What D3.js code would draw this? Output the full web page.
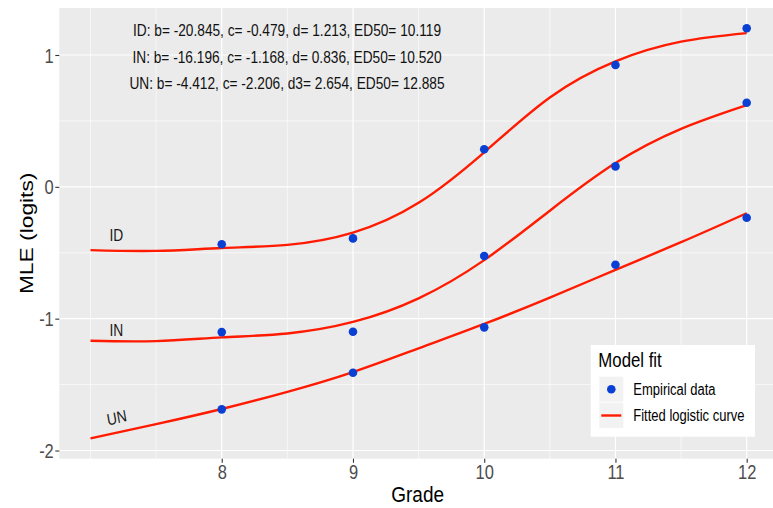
<!DOCTYPE html>
<html><head><meta charset="utf-8">
<script src="https://cdn.jsdelivr.net/npm/d3@7"></script>
<style>
body{margin:0;background:#fff}
svg{display:block}
text{font-family:"Liberation Sans",Arial,Helvetica,sans-serif}
</style>
</head><body>
<svg id="chart" width="773" height="508"></svg>
<script>
// ---------- data ----------
const grades = [8, 9, 10, 11, 12];
const idObs = [-0.436, -0.391, 0.285, 0.924, 1.203];
const inObs = [-1.102, -1.099, -0.525, 0.155, 0.638];
const unObs = [-1.688, -1.410, -1.066, -0.591, -0.234];

const fitGrades = [7, 7.5, 8, 8.5, 9, 9.5, 10, 10.5, 11, 11.5, 12];
const idFit = [-0.480, -0.486, -0.464, -0.440, -0.347, -0.121, 0.262, 0.678, 0.952, 1.101, 1.166];
const inFit = [-1.168, -1.170, -1.142, -1.112, -1.025, -0.846, -0.556, -0.181, 0.180, 0.440, 0.620];
const unFit = [-1.908, -1.800, -1.685, -1.555, -1.405, -1.225, -1.040, -0.840, -0.630, -0.420, -0.200];

const xTicks = [8, 9, 10, 11, 12];
const yTicks = [-2, -1, 0, 1];
const xMinor = [7, 7.5, 8.5, 9.5, 10.5, 11.5];
const yMinor = [-1.5, -0.5, 0.5];

const annotations = [
  "ID: b= -20.845, c= -0.479, d= 1.213, ED50= 10.119",
  "IN: b= -16.196, c= -1.168, d= 0.836, ED50= 10.520",
  "UN: b= -4.412, c= -2.206, d3= 2.654, ED50= 12.885"
];
const curveNames = ["ID", "IN", "UN"];
const legendTitle = "Model fit";
const legendItems = ["Empirical data", "Fitted logistic curve"];
const xTitle = "Grade";
const yTitle = "MLE (logits)";

// ---------- layout ----------
const W = 773, H = 508, K = 1.2;   // K: vertical stretch of glyphs
const panel = {x0: 59.3, x1: 780, y0: 8, y1: 458.7};
const x = d3.scaleLinear().domain([7, 12]).range([90.5, 746.7]);
const y = d3.scaleLinear().domain([-2, 1]).range([450.5, 55]);

const RED = "#ff1a00", BLUE = "#0a3fd4";
const svg = d3.select("#chart");

svg.append("rect").attr("width", W).attr("height", H).attr("fill", "#fff");
svg.append("rect").attr("x", panel.x0).attr("y", panel.y0)
  .attr("width", panel.x1 - panel.x0).attr("height", panel.y1 - panel.y0)
  .attr("fill", "#ebebeb");

const grid = svg.append("g");
grid.selectAll(".vmin").data(xMinor).join("line")
  .attr("x1", d => x(d)).attr("x2", d => x(d)).attr("y1", panel.y0).attr("y2", panel.y1)
  .attr("stroke", "#fff").attr("stroke-width", 0.6);
grid.selectAll(".hmin").data(yMinor).join("line")
  .attr("y1", d => y(d)).attr("y2", d => y(d)).attr("x1", panel.x0).attr("x2", panel.x1)
  .attr("stroke", "#fff").attr("stroke-width", 0.6);
grid.selectAll(".vmaj").data(xTicks).join("line")
  .attr("x1", d => x(d)).attr("x2", d => x(d)).attr("y1", panel.y0).attr("y2", panel.y1)
  .attr("stroke", "#fff").attr("stroke-width", 1.2);
grid.selectAll(".hmaj").data(yTicks).join("line")
  .attr("y1", d => y(d)).attr("y2", d => y(d)).attr("x1", panel.x0).attr("x2", panel.x1)
  .attr("stroke", "#fff").attr("stroke-width", 1.2);

// fitted curves
const line = d3.line().x((d, i) => x(fitGrades[i])).y(d => y(d)).curve(d3.curveNatural);
[idFit, inFit, unFit].forEach(s => {
  svg.append("path").attr("d", line(s)).attr("fill", "none")
    .attr("stroke", RED).attr("stroke-width", 2.4);
});

// empirical points
[idObs, inObs, unObs].forEach(s => {
  svg.append("g").selectAll("circle").data(s).join("circle")
    .attr("cx", (d, i) => x(grades[i])).attr("cy", d => y(d))
    .attr("r", 4.3).attr("fill", BLUE);
});

// helper for stretched text
function stext(g, tx, ty, str, size, anchor, extra) {
  return g.append("text")
    .attr("transform", `translate(${tx},${ty}) scale(1,${K})` + (extra || ""))
    .attr("font-size", size).attr("text-anchor", anchor || "start").text(str);
}

// annotations
annotations.forEach((a, i) => {
  stext(svg, 287, 36 + i * 26.6, a, 13.7, "middle").attr("fill", "#111");
});

// curve labels
stext(svg, 116.3, 240.7, curveNames[0], 13.8, "middle").attr("fill", "#1a1a1a");
stext(svg, 116.3, 335.7, curveNames[1], 13.8, "middle").attr("fill", "#1a1a1a");
stext(svg, 116.7, 417.5, curveNames[2], 13.8, "middle", " rotate(-12)")
  .attr("dy", "0.36em").attr("fill", "#1a1a1a");

// axes
const fmt = d => String(d);
const xAxis = svg.append("g").attr("transform", `translate(0,${panel.y1})`)
  .call(d3.axisBottom(x).tickValues(xTicks).tickSize(4).tickFormat(fmt));
xAxis.select(".domain").remove();
xAxis.selectAll(".tick line").attr("stroke", "#333").attr("stroke-width", 1.1);
xAxis.selectAll(".tick text").attr("y", 0).attr("dy", null)
  .attr("transform", `translate(0,20.5) scale(1,${K})`)
  .attr("font-size", 16.5).attr("fill", "#4d4d4d")
  .attr("font-family", "'Liberation Sans',Arial,sans-serif");

const yAxis = svg.append("g").attr("transform", `translate(${panel.x0},0)`)
  .call(d3.axisLeft(y).tickValues(yTicks).tickSize(4).tickFormat(fmt));
yAxis.select(".domain").remove();
yAxis.selectAll(".tick line").attr("stroke", "#333").attr("stroke-width", 1.1);
yAxis.selectAll(".tick text").attr("x", 0).attr("dy", null)
  .attr("transform", `translate(-5.5,7.1) scale(1,${K})`)
  .attr("font-size", 16.5).attr("fill", "#4d4d4d")
  .attr("font-family", "'Liberation Sans',Arial,sans-serif");

// axis titles
stext(svg, (panel.x0 + 776) / 2, 502, xTitle, 19, "middle").attr("fill", "#000");
stext(svg, 33, (panel.y0 + panel.y1) / 2, yTitle, 19, "middle", " rotate(-90)").attr("fill", "#000");

// legend
const lg = svg.append("g");
lg.append("rect").attr("x", 590.7).attr("y", 345).attr("width", 164.3).attr("height", 91.7).attr("fill", "#fff");
stext(lg, 598.3, 367.3, legendTitle, 16.8, "start").attr("fill", "#000");
lg.append("rect").attr("x", 599.3).attr("y", 376.7).attr("width", 24).attr("height", 25).attr("fill", "#f2f2f2");
lg.append("rect").attr("x", 599.3).attr("y", 402.7).attr("width", 24).attr("height", 25.3).attr("fill", "#f2f2f2");
lg.append("circle").attr("cx", 611.3).attr("cy", 389.3).attr("r", 4.3).attr("fill", BLUE);
lg.append("line").attr("x1", 601.3).attr("x2", 621.3).attr("y1", 415.5).attr("y2", 415.5)
  .attr("stroke", RED).attr("stroke-width", 2.4);
stext(lg, 633.3, 394.9, legendItems[0], 13, "start").attr("fill", "#000");
stext(lg, 633.3, 421, legendItems[1], 13, "start").attr("fill", "#000");
</script>
</body></html>
